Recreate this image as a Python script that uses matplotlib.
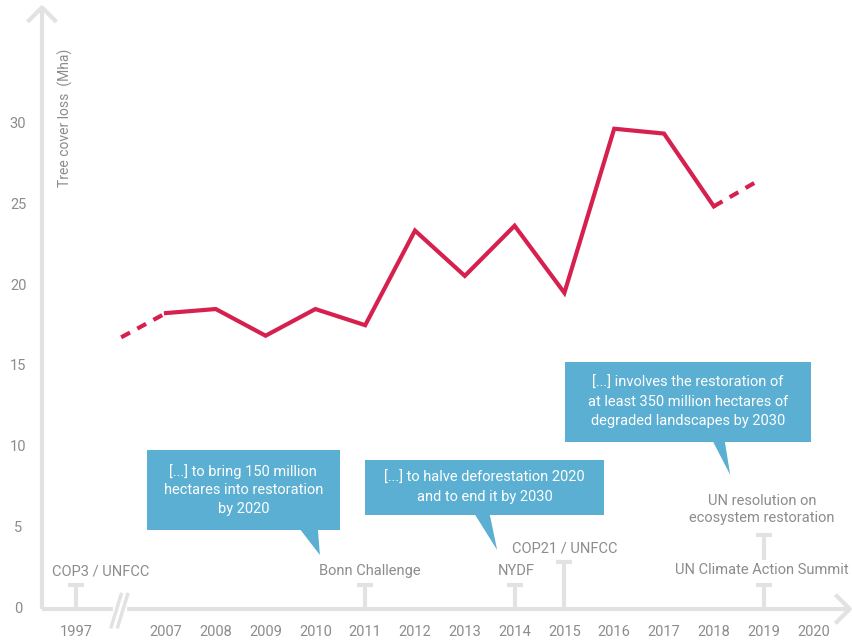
import matplotlib
matplotlib.use('Agg')
import matplotlib.pyplot as plt
from matplotlib.patches import Rectangle, Polygon

plt.rcParams['font.family'] = 'Roboto'

# data
years = [2007, 2008, 2009, 2010, 2011, 2012, 2013, 2014, 2015, 2016, 2017, 2018]
loss = [18.3, 18.55, 16.9, 18.55, 17.55, 23.4, 20.6, 23.7, 19.55, 29.7, 29.4, 24.9]
start_x = [2006.1, 2007]
start_y = [16.8, 18.3]
end_x = [2018, 2018.9]
end_y = [24.9, 26.5]

tick_years = [1997, 2007, 2008, 2009, 2010, 2011, 2012, 2013, 2014, 2015, 2016, 2017, 2018, 2019, 2020]
y_ticks = [0, 5, 10, 15, 20, 25, 30]
# 1997 is drawn before the axis break
pos_1997 = 2005.2

def xpos(yr):
    return pos_1997 if yr == 1997 else yr

grey = '#e2e2e2'
txt = '#8c8c8c'
red = '#d6214f'
blue = '#5aafd2'

fig = plt.figure(figsize=(8.52, 6.42), dpi=100)
ax = fig.add_axes([0, 0, 1, 1])
ax.set_xlim(2003.667, 2020.775)
ax.set_ylim(-2.04, 37.66)
ax.axis('off')

# axes with arrows
x0 = 2004.51
ax.plot([x0, x0], [0, 37.2], color=grey, lw=3, solid_capstyle='butt', zorder=1)
ax.plot([x0 - 0.26, x0, x0 + 0.26], [36.4, 37.2, 36.4], color=grey, lw=3, zorder=1)
ax.plot([x0, 2005.94], [0, 0], color=grey, lw=3, solid_capstyle='butt', zorder=1)
ax.plot([2006.22, 2020.73], [0, 0], color=grey, lw=3, solid_capstyle='butt', zorder=1)
ax.plot([2020.47, 2020.73, 2020.47], [0.8, 0, -0.8], color=grey, lw=3, zorder=1)
for dx in [0, 0.13]:
    ax.plot([2005.9 + dx, 2006.1 + dx], [-1.1, 0.9], color=grey, lw=2.5, zorder=1)

# tick labels
for yr in tick_years:
    ax.text(xpos(yr), -1.42, str(yr), ha='center', va='center', fontsize=10.5, color=txt)
for v in y_ticks:
    ax.text(2004.03, v, str(v), ha='center', va='center', fontsize=10.5, color=txt)
ax.text(2004.97, 30.4, 'Tree cover loss  (Mha)', rotation=90, ha='center', va='center',
        fontsize=10, color=txt)

# line
ax.plot(years, loss, color=red, lw=3, solid_joinstyle='miter', zorder=3)
ax.plot(start_x, start_y, color=red, lw=3, ls=(0, (2.4, 2)), zorder=3)
ax.plot(end_x, end_y, color=red, lw=3, ls=(0, (2.4, 2)), zorder=3)

# event markers
def tmark(x, ybot, ytop):
    ax.plot([x, x], [ybot, ytop], color=grey, lw=3, solid_capstyle='butt', zorder=1)
    ax.plot([x - 0.16, x + 0.16], [ytop, ytop], color=grey, lw=3, solid_capstyle='butt', zorder=1)

tmark(pos_1997, 0, 1.5)
tmark(2011, 0, 1.5)
tmark(2014, 0, 1.5)
tmark(2015, 0, 2.9)
tmark(2019, 0, 1.5)
tmark(2019, 3.0, 4.6)

ev = dict(ha='center', va='center', fontsize=10.5, color=txt)
ax.text(2005.68, 2.35, 'COP3 / UNFCC', **ev)
ax.text(2011.1, 2.35, 'Bonn Challenge', **ev)
ax.text(2014.03, 2.35, 'NYDF', **ev)
ax.text(2015.01, 3.77, 'COP21 / UNFCC', **ev)
ax.text(2018.97, 2.4, 'UN Climate Action Summit', **ev)
ax.text(2018.97, 6.15, 'UN resolution on\necosystem restoration', linespacing=1.3, **ev)

# callout boxes
def callout(x1, x2, y1, y2, base, tip, text):
    ax.add_patch(Rectangle((x1, y1), x2 - x1, y2 - y1, color=blue, lw=0, zorder=4))
    ax.add_patch(Polygon([(base[0], y1 + 0.05), (base[1], y1 + 0.05), tip], color=blue, lw=0, zorder=4))
    ax.text((x1 + x2) / 2, (y1 + y2) / 2, text, ha='center', va='center', color='white',
            fontsize=10.5, linespacing=1.45, zorder=5)

callout(2006.62, 2010.49, 4.89, 9.83, (2009.69, 2010.05), (2010.09, 3.34),
        '[...] to bring 150 million\nhectares into restoration\nby 2020')
callout(2011.0, 2015.8, 5.81, 9.21, (2013.2, 2013.5), (2013.65, 3.65),
        '[...] to halve deforestation 2020\nand to end it by 2030')
callout(2015.01, 2019.95, 10.33, 15.27, (2017.98, 2018.22), (2018.33, 8.29),
        '[...] involves the restoration of\nat least 350 million hectares of\ndegraded landscapes by 2030')

fig.savefig('out.png', dpi=100)
